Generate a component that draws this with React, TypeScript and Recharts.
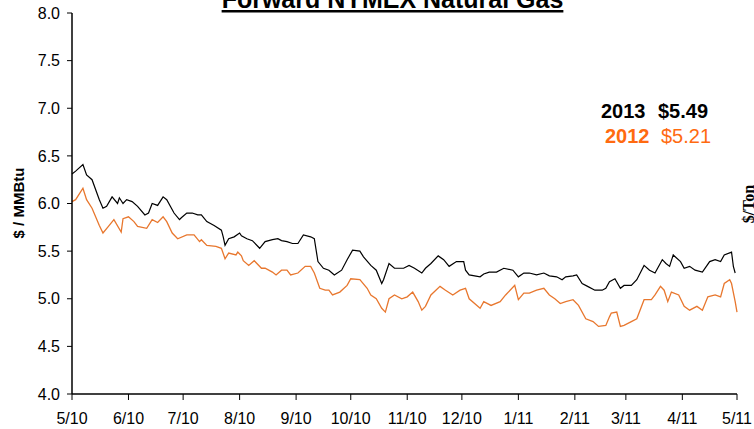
import { LineChart, Line, XAxis, YAxis } from 'recharts';

// day offsets from 5/1/10
const monthTicks = [0, 31, 61, 92, 123, 153, 184, 214, 245, 276, 304, 335, 365];
const monthLabels = ['5/10', '6/10', '7/10', '8/10', '9/10', '10/10', '11/10', '12/10', '1/11', '2/11', '3/11', '4/11', '5/11'];
const priceTicks = [4, 4.5, 5, 5.5, 6, 6.5, 7, 7.5, 8];

const days2013 = [0, 2, 6, 8, 11, 15, 17, 19, 22, 25, 26, 28, 30, 33, 36, 40, 42, 44, 47, 50, 52, 56, 59, 60, 63, 66, 69, 71, 74, 78, 82, 83, 84, 86, 89, 92, 93, 96, 99, 103, 106, 110, 113, 115, 118, 121, 124, 127, 131, 133, 135, 138, 141, 144, 148, 151, 154, 158, 160, 164, 167, 170, 171, 174, 177, 182, 185, 188, 192, 194, 197, 201, 204, 207, 211, 215, 216, 218, 224, 226, 229, 233, 237, 242, 245, 248, 251, 255, 259, 262, 266, 269, 271, 275, 277, 280, 283, 287, 291, 293, 295, 298, 301, 303, 307, 310, 314, 317, 320, 324, 326, 328, 330, 334, 336, 339, 342, 346, 350, 353, 356, 358, 362, 363, 364];
const price2013 = [6.31, 6.34, 6.41, 6.30, 6.25, 6.04, 5.95, 5.97, 6.07, 6.00, 6.06, 6.00, 6.04, 6.02, 5.97, 5.88, 5.90, 6.00, 5.98, 6.07, 6.04, 5.90, 5.83, 5.85, 5.90, 5.90, 5.88, 5.88, 5.81, 5.77, 5.72, 5.65, 5.56, 5.63, 5.65, 5.69, 5.66, 5.63, 5.61, 5.53, 5.60, 5.62, 5.63, 5.61, 5.60, 5.58, 5.58, 5.67, 5.65, 5.63, 5.39, 5.32, 5.30, 5.25, 5.30, 5.41, 5.51, 5.50, 5.44, 5.35, 5.30, 5.16, 5.20, 5.37, 5.32, 5.32, 5.35, 5.32, 5.27, 5.32, 5.37, 5.45, 5.41, 5.34, 5.39, 5.39, 5.30, 5.25, 5.23, 5.26, 5.28, 5.28, 5.32, 5.30, 5.23, 5.27, 5.27, 5.25, 5.27, 5.24, 5.23, 5.20, 5.23, 5.24, 5.25, 5.16, 5.13, 5.09, 5.09, 5.11, 5.18, 5.21, 5.11, 5.14, 5.14, 5.20, 5.35, 5.30, 5.27, 5.41, 5.37, 5.34, 5.46, 5.39, 5.32, 5.34, 5.30, 5.28, 5.39, 5.41, 5.39, 5.46, 5.49, 5.34, 5.27];

const days2012 = [0, 2, 6, 8, 11, 15, 17, 20, 23, 27, 28, 31, 34, 36, 41, 44, 47, 50, 52, 55, 58, 63, 67, 70, 71, 74, 79, 82, 84, 86, 90, 91, 93, 94, 97, 100, 104, 106, 110, 112, 115, 118, 120, 124, 128, 131, 133, 136, 139, 141, 143, 147, 151, 153, 158, 162, 164, 167, 170, 172, 174, 177, 181, 184, 187, 190, 192, 194, 197, 202, 205, 209, 213, 216, 218, 224, 226, 230, 235, 238, 243, 245, 248, 251, 255, 259, 262, 265, 268, 271, 275, 278, 282, 286, 289, 293, 295, 296, 299, 301, 303, 307, 310, 314, 318, 320, 323, 325, 327, 329, 333, 336, 339, 343, 346, 349, 353, 356, 358, 361, 362, 364, 365];
const price2012 = [6.02, 6.04, 6.16, 6.04, 5.95, 5.77, 5.69, 5.76, 5.83, 5.70, 5.84, 5.86, 5.81, 5.76, 5.74, 5.83, 5.80, 5.86, 5.81, 5.69, 5.63, 5.67, 5.67, 5.60, 5.62, 5.56, 5.55, 5.53, 5.42, 5.48, 5.46, 5.49, 5.45, 5.40, 5.35, 5.40, 5.32, 5.32, 5.28, 5.25, 5.30, 5.30, 5.25, 5.27, 5.34, 5.34, 5.27, 5.11, 5.09, 5.09, 5.04, 5.07, 5.14, 5.21, 5.20, 5.11, 5.04, 5.00, 4.90, 4.86, 5.00, 5.04, 5.00, 5.02, 5.07, 4.97, 4.88, 4.92, 5.04, 5.13, 5.09, 5.04, 5.09, 5.11, 5.00, 4.90, 4.97, 4.93, 4.97, 5.04, 5.14, 4.99, 5.06, 5.06, 5.09, 5.11, 5.04, 5.00, 4.95, 4.97, 4.99, 4.93, 4.79, 4.76, 4.71, 4.72, 4.81, 4.85, 4.86, 4.71, 4.72, 4.76, 4.79, 4.99, 4.99, 5.04, 5.13, 5.09, 4.97, 5.07, 5.04, 4.92, 4.88, 4.92, 4.88, 5.02, 5.04, 5.02, 5.16, 5.20, 5.16, 4.97, 4.86];

const data2013 = days2013.map((d, i) => ({ day: d, price: price2013[i] }));
const data2012 = days2012.map((d, i) => ({ day: d, price: price2012[i] }));

const font = '"Liberation Sans", Arial, sans-serif';
const orange = '#FF6A10';

export default function App() {
  return (
    <div style={{ position: 'absolute', left: 0, top: 0, width: 754, height: 429, overflow: 'hidden', background: '#fff' }}>
      <LineChart width={754} height={429} margin={{ top: 13, right: 17, bottom: 0, left: 0 }}>
        <XAxis
          type="number"
          dataKey="day"
          domain={[0, 365]}
          ticks={monthTicks}
          interval={0}
          tickFormatter={(v: number) => monthLabels[monthTicks.indexOf(v)]}
          height={35}
          tickSize={6}
          tickMargin={13}
          axisLine={{ stroke: '#000', strokeWidth: 1.5 }}
          tickLine={{ stroke: '#000' }}
          tick={{ fill: '#000', fontSize: 16, fontFamily: font }}
        />
        <YAxis
          type="number"
          domain={[4, 8]}
          ticks={priceTicks}
          interval={0}
          tickFormatter={(v: number) => v.toFixed(1)}
          width={72}
          tickSize={5}
          tickMargin={7}
          axisLine={{ stroke: '#000', strokeWidth: 1.5 }}
          tickLine={{ stroke: '#000' }}
          tick={{ fill: '#000', fontSize: 16, fontFamily: font }}
        />
        <Line data={data2012} dataKey="price" type="linear" stroke="#E8772E" strokeWidth={1.3} dot={false} isAnimationActive={false} />
        <Line data={data2013} dataKey="price" type="linear" stroke="#000" strokeWidth={1.2} dot={false} isAnimationActive={false} />
      </LineChart>
      <svg width={754} height={429} style={{ position: 'absolute', left: 0, top: 0, pointerEvents: 'none' }}>
        <text x={392.5} y={8} textAnchor="middle" fontFamily={font} fontWeight="bold" fontSize={25} style={{ textDecoration: 'underline' }}>
          Forward NYMEX Natural Gas
        </text>
        <text x={601} y={118} fontFamily={font} fontWeight="bold" fontSize={20} fill="#000">2013</text>
        <text x={658} y={118} fontFamily={font} fontWeight="bold" fontSize={20} fill="#000">$5.49</text>
        <text x={605} y={143} fontFamily={font} fontWeight="bold" fontSize={20} fill={orange}>2012</text>
        <text x={661} y={143} fontFamily={font} fontSize={20} fill={orange}>$5.21</text>
        <text x={24} y={203} transform="rotate(-90 24 203)" textAnchor="middle" fontFamily={font} fontWeight="bold" fontSize={15}>
          $ / MMBtu
        </text>
        <text x={754} y={204} transform="rotate(-90 754 204)" textAnchor="middle" fontFamily='"Liberation Serif", serif' fontWeight="bold" fontSize={16}>
          $/Ton
        </text>
      </svg>
    </div>
  );
}
